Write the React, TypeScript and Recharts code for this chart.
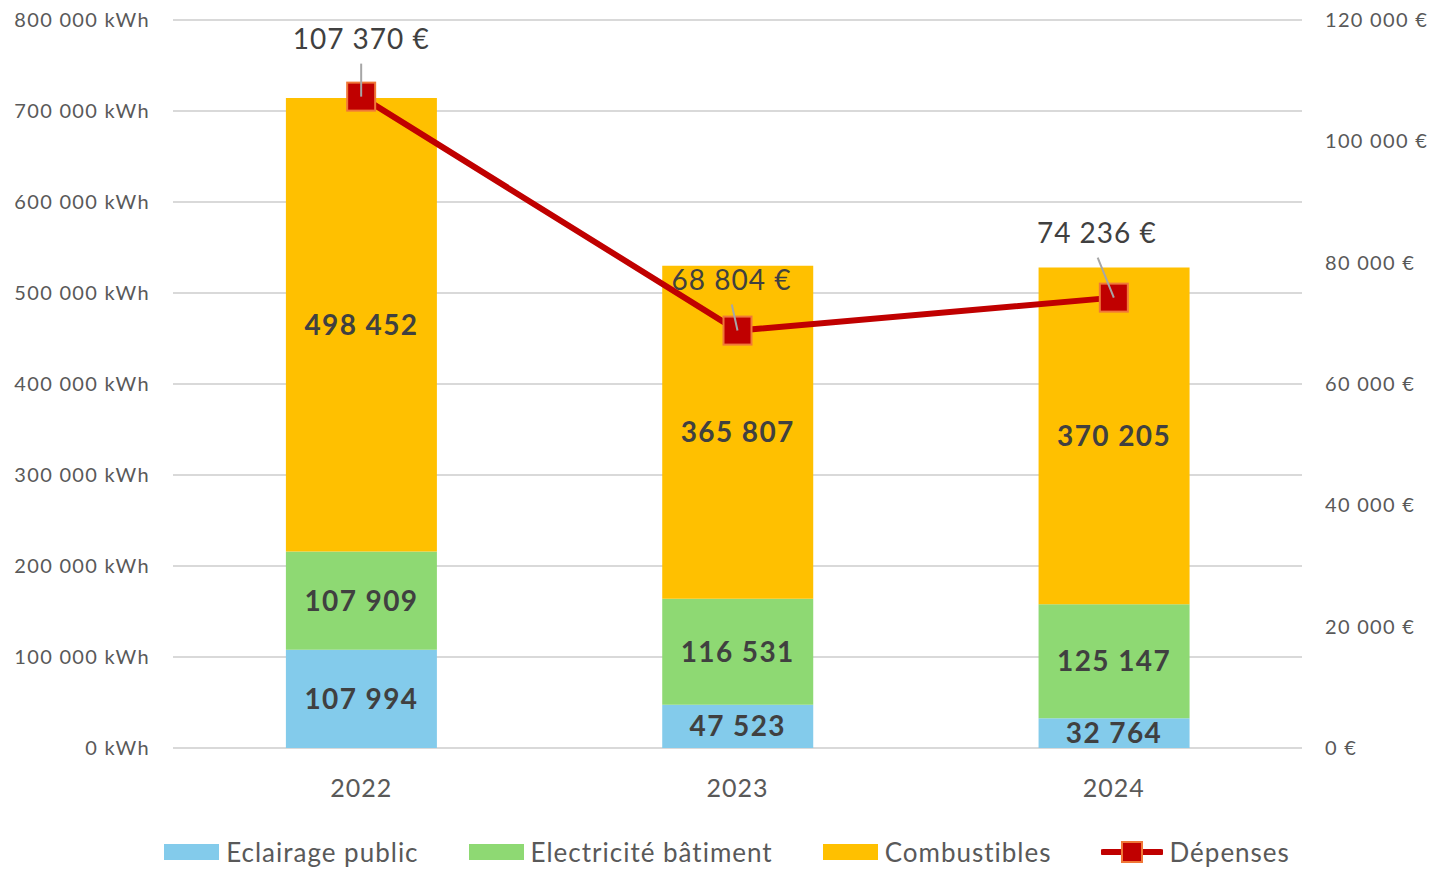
import React from 'react';
import { ComposedChart, Bar, Line, XAxis, YAxis, CartesianGrid, LabelList, Legend } from 'recharts';

const years = ['2022', '2023', '2024'];
const eclairagePublic = [107994, 47523, 32764];
const electriciteBatiment = [107909, 116531, 125147];
const combustibles = [498452, 365807, 370205];
const depenses = [107370, 68804, 74236];
const kwhTicks = [0, 100000, 200000, 300000, 400000, 500000, 600000, 700000, 800000];
const euroTicks = [0, 20000, 40000, 60000, 80000, 100000, 120000];

const seriesNames = ['Eclairage public', 'Electricité bâtiment', 'Combustibles', 'Dépenses'];
const colors = ['#83CBEB', '#8ED973', '#FFC000', '#C00000'];

// label placement offsets (relative to each point), style only
const lineLabelOffsets = [
  { dx: 0, dy: -59 },
  { dx: -6, dy: -52 },
  { dx: -17, dy: -66 },
];

const data = years.map((y, i) => ({
  year: y,
  eclairage: eclairagePublic[i],
  electricite: electriciteBatiment[i],
  combustibles: combustibles[i],
  depenses: depenses[i],
}));

const FONT = 'Lato, "Open Sans", sans-serif';
const fmt = (n: number) => String(n).replace(/\B(?=(\d{3})+(?!\d))/g, ' ');

const SquareDot = (props: any) => {
  const { cx, cy } = props;
  if (cx == null || cy == null) return null;
  return <rect x={cx - 14} y={cy - 14} width={28} height={28} fill="#C00000" stroke="#F07838" strokeWidth={2} />;
};

const LineLabel = (props: any) => {
  const { x, y, value, index } = props;
  const off = lineLabelOffsets[index] || { dx: 0, dy: -50 };
  const lx = x + off.dx;
  const ly = y + off.dy;
  return (
    <g>
      <line x1={lx + (x - lx) * 0.05} y1={ly + 26} x2={x} y2={y} stroke="#A6A6A6" strokeWidth={2} />
      <text x={lx} y={ly} textAnchor="middle" dominantBaseline="central" fontSize={28} letterSpacing={1} fill="#404040" fontFamily={FONT}>
        {fmt(value) + ' €'}
      </text>
    </g>
  );
};

const CustomLegend = () => (
  <div style={{ display: 'flex', justifyContent: 'center', alignItems: 'center', height: 34, fontFamily: FONT, fontSize: 26, letterSpacing: 1, color: '#595959', paddingLeft: 18 }}>
    {seriesNames.map((name, i) => (
      <div key={name} style={{ display: 'flex', alignItems: 'center', marginRight: i < 3 ? 50 : 0 }}>
        {i < 3 ? (
          <div style={{ width: 55, height: 16, background: colors[i], marginRight: 7 }} />
        ) : (
          <svg width={62} height={28} style={{ marginRight: 6 }}>
            <line x1={2} y1={14} x2={60} y2={14} stroke="#C00000" strokeWidth={6} strokeLinecap="round" />
            <rect x={21} y={4} width={20} height={20} fill="#C00000" stroke="#F07838" strokeWidth={2} />
          </svg>
        )}
        <span>{name}</span>
      </div>
    ))}
  </div>
);

const labelStyle = { fontSize: 28, fontWeight: 700, fill: '#404040', fontFamily: FONT, letterSpacing: 1.4 };

export default function App() {
  return (
    <div style={{ position: 'absolute', left: 0, top: 0, background: '#fff' }}>
      <ComposedChart
        width={1436}
        height={869}
        data={data}
        margin={{ top: 20, right: 0, bottom: 0, left: 0 }}
        barCategoryGap="30%"
      >
        <CartesianGrid yAxisId="left" vertical={false} stroke="#D9D9D9" strokeWidth={2} />
        <XAxis
          dataKey="year"
          axisLine={false}
          tickLine={false}
          tickSize={0}
          tickMargin={31}
          height={87}
          tick={{ fontSize: 25, fill: '#595959', fontFamily: FONT, letterSpacing: 1 }}
        />
        <YAxis
          yAxisId="left"
          orientation="left"
          domain={[0, 800000]}
          ticks={kwhTicks}
          width={173}
          axisLine={false}
          tickLine={false}
          tickSize={0}
          tickMargin={23}
          tickFormatter={(v: number) => fmt(v) + ' kWh'}
          tick={{ fontSize: 20, fill: '#595959', fontFamily: FONT, letterSpacing: 1.3 }}
        />
        <YAxis
          yAxisId="right"
          orientation="right"
          domain={[0, 120000]}
          ticks={euroTicks}
          width={134}
          axisLine={false}
          tickLine={false}
          tickSize={0}
          tickMargin={23}
          tickFormatter={(v: number) => fmt(v) + ' €'}
          tick={{ fontSize: 20, fill: '#595959', fontFamily: FONT, textAnchor: 'start', letterSpacing: 1.3 }}
        />
        <Legend verticalAlign="bottom" content={<CustomLegend />} />
        <Bar yAxisId="left" dataKey="eclairage" stackId="a" fill={colors[0]} isAnimationActive={false} name={seriesNames[0]}>
          <LabelList dataKey="eclairage" position="center" formatter={(v: any) => fmt(v)} style={labelStyle} />
        </Bar>
        <Bar yAxisId="left" dataKey="electricite" stackId="a" fill={colors[1]} isAnimationActive={false} name={seriesNames[1]}>
          <LabelList dataKey="electricite" position="center" formatter={(v: any) => fmt(v)} style={labelStyle} />
        </Bar>
        <Bar yAxisId="left" dataKey="combustibles" stackId="a" fill={colors[2]} isAnimationActive={false} name={seriesNames[2]}>
          <LabelList dataKey="combustibles" position="center" formatter={(v: any) => fmt(v)} style={labelStyle} />
        </Bar>
        <Line
          yAxisId="right"
          dataKey="depenses"
          stroke={colors[3]}
          strokeWidth={6}
          dot={<SquareDot />}
          activeDot={false}
          isAnimationActive={false}
          name={seriesNames[3]}
        >
          <LabelList dataKey="depenses" content={<LineLabel />} />
        </Line>
      </ComposedChart>
    </div>
  );
}
